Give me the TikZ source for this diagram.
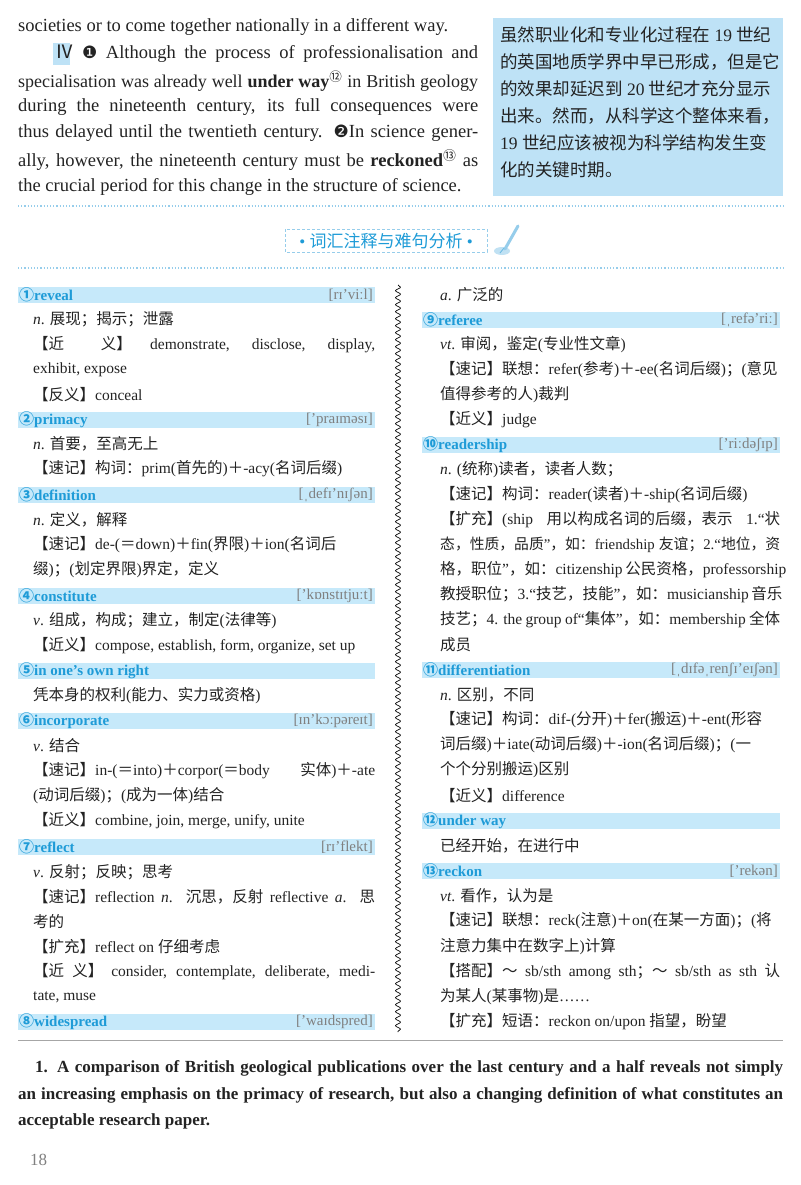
\documentclass[tikz,border=0pt]{standalone}
\usepackage{fontspec}
\setmainfont{Liberation Serif}
\newfontfamily\cjk{Noto Sans CJK SC}
\newfontfamily\dvs{DejaVu Sans}
\usetikzlibrary{decorations.pathmorphing}
\XeTeXinterchartokenstate=1
\newXeTeXintercharclass\cjkcls
\newcount\cc
\def\setcls#1#2{\cc=#1 \loop\XeTeXcharclass\cc=\cjkcls\ifnum\cc<#2 \advance\cc 1 \repeat}
\setcls{"3000}{"303F}\setcls{"4E00}{"9FFF}\setcls{"FF00}{"FFEF}\setcls{"2460}{"24FF}\setcls{"2160}{"217F}
\XeTeXinterchartoks 0 \cjkcls={\begingroup\cjk}
\XeTeXinterchartoks 4095 \cjkcls={\begingroup\cjk}
\XeTeXinterchartoks \cjkcls 0={\endgroup}
\XeTeXinterchartoks \cjkcls 4095={\endgroup}
\definecolor{barc}{RGB}{198,233,250}
\definecolor{boxc}{RGB}{190,226,246}
\definecolor{headc}{RGB}{30,155,215}
\definecolor{txt}{RGB}{35,35,35}
\definecolor{dotc}{RGB}{150,205,235}
\tikzset{ln/.style={anchor=west,inner sep=0,text=txt,font=\fontsize{15.5}{17}\selectfont},
 top/.style={ln,font=\fontsize{18.5}{20}\selectfont},
 hd/.style={anchor=west,inner sep=0,text=headc,font=\fontsize{15}{16}\selectfont\bfseries},
 ph/.style={anchor=east,inner sep=0,text=gray,font=\fontsize{15}{16}\selectfont}}
\newcommand\Ln[3]{\node[ln] at (#1,#2) {#3};}
\newcommand\Jn[4]{\node[ln] at (#1,#2) {\hbox to #3pt{#4}};}
\newcommand\Bar[5]{\fill[barc] (#1,#3-8) rectangle (#2,#3+8);
 \node[hd] at (#1+1,#3) {#4}; \node[ph] at (#2-2,#3) {#5};}
\begin{document}
\begin{tikzpicture}[x=1pt,y=-1pt]
\useasboundingbox[fill=white] (0,0) rectangle (800,1185);
% top paragraph
\node[top] at (18,27) {societies or to come together nationally in a different way.};
\fill[boxc] (53,43) rectangle (70,65);
\node[top] at (55,54) {\hbox to 423pt{Ⅳ\ {\dvs\fontsize{17}{18}\selectfont ❶} Although the process of professionalisation and}};
\node[top,font=\fontsize{18}{20}\selectfont] at (18,81) {\hbox to 460pt{specialisation was already well \textbf{under way}\textsuperscript{⑫} in British geology}};
\node[top] at (18,107) {\hbox to 460pt{during the nineteenth century, its full consequences were}};
\node[top] at (18,133) {\hbox to 460pt{thus delayed until the twentieth century. {\dvs\fontsize{17}{18}\selectfont ❷}In science gener-}};
\node[top] at (18,160) {\hbox to 460pt{ally, however, the nineteenth century must be \textbf{reckoned}\textsuperscript{⑬} as}};
\node[top] at (18,187) {the crucial period for this change in the structure of science.};
\fill[boxc] (493,18) rectangle (783,196);
\foreach \t [count=\i] in {虽然职业化和专业化过程在 19 世纪,的英国地质学界中早已形成，但是它,的效果却延迟到 20 世纪才充分显示,出来。然而，从科学这个整体来看，,19 世纪应该被视为科学结构发生变,化的关键时期。}
 \node[ln,font=\fontsize{17.5}{20}\selectfont] at (500,8+27*\i) {\t};
\draw[dotc,dotted,line width=1.2pt] (18,206) -- (783,206);
\draw[dotc,dotted,line width=1.2pt] (18,268) -- (783,268);
\draw[dotc,densely dashed] (285,229) rectangle (487,252);
\node[text=headc,font=\fontsize{17}{18}\selectfont,inner sep=0] (hd) at (386,241) {• 词汇注释与难句分析 •};
\draw[dotc,line width=3pt,line cap=round] (505,249) -- (518,226);
\draw[headc,line width=0.8pt] (500,253) -- (504,248);
\fill[dotc,opacity=0.6] (502,251) ellipse (8 and 4);
% separator
\draw[decorate,decoration={snake,segment length=7,amplitude=2.5},line width=0.7pt] (398,285) -- (398,1032);
% left column
\Bar{18}{375}{295}{①reveal}{[rɪ'viːl]}
\Ln{33}{319}{\textit{n}. 展现；揭示；泄露}
\Jn{33}{345}{342}{【近 \ 义】 demonstrate, disclose, display,}
\Ln{33}{370}{exhibit, expose}
\Ln{33}{395}{【反义】conceal}
\Bar{18}{375}{420}{②primacy}{['praɪməsɪ]}
\Ln{33}{444}{\textit{n}. 首要，至高无上}
\Ln{33}{469}{【速记】构词：prim(首先的)＋-acy(名词后缀)}
\Bar{18}{375}{495}{③definition}{[ˌdefɪ'nɪʃən]}
\Ln{33}{520}{\textit{n}. 定义，解释}
\Jn{33}{545}{342}{【速记】de-(＝down)＋fin(界限)＋ion(名词后}
\Ln{33}{570}{缀)；(划定界限)界定，定义}
\Bar{18}{375}{596}{④constitute}{['kɒnstɪtjuːt]}
\Ln{33}{621}{\textit{v}. 组成，构成；建立，制定(法律等)}
\Ln{33}{646}{【近义】compose, establish, form, organize, set up}
\Bar{18}{375}{671}{⑤in one's own right}{}
\Ln{33}{696}{凭本身的权利(能力、实力或资格)}
\Bar{18}{375}{721}{⑥incorporate}{[ɪn'kɔːpəreɪt]}
\Ln{33}{746}{\textit{v}. 结合}
\Jn{33}{771}{342}{【速记】in-(＝into)＋corpor(＝body 实体)＋-ate}
\Ln{33}{796}{(动词后缀)；(成为一体)结合}
\Ln{33}{821}{【近义】combine, join, merge, unify, unite}
\Bar{18}{375}{847}{⑦reflect}{[rɪ'flekt]}
\Ln{33}{872}{\textit{v}. 反射；反映；思考}
\Jn{33}{897}{342}{【速记】reflection \textit{n}. 沉思，反射 reflective \textit{a}. 思}
\Ln{33}{922}{考的}
\Ln{33}{947}{【扩充】reflect on 仔细考虑}
\Jn{33}{972}{342}{【近 义】 consider, contemplate, deliberate, medi-}
\Ln{33}{997}{tate, muse}
\Bar{18}{375}{1022}{⑧widespread}{['waɪdspred]}
% right column
\Ln{440}{295}{\textit{a}. 广泛的}
\Bar{422}{780}{320}{⑨referee}{[ˌrefə'riː]}
\Ln{440}{345}{\textit{vt}. 审阅，鉴定(专业性文章)}
\Jn{440}{370}{340}{【速记】联想：refer(参考)＋-ee(名词后缀)；(意见}
\Ln{440}{395}{值得参考的人)裁判}
\Ln{440}{420}{【近义】judge}
\Bar{422}{780}{445}{⑩readership}{['riːdəʃɪp]}
\Ln{440}{470}{\textit{n}. (统称)读者，读者人数；}
\Ln{440}{495}{【速记】构词：reader(读者)＋-ship(名词后缀)}
\Jn{440}{520}{340}{【扩充】(ship 用以构成名词的后缀，表示 1.“状}
\node[ln,font=\fontsize{14.8}{17}\selectfont] at (440,545) {\hbox to 340pt{态，性质，品质”，如：friendship 友谊；2.“地位，资}};
\Jn{440}{570}{340}{格，职位”，如：citizenship 公民资格，professorship}
\Jn{440}{595}{340}{教授职位；3.“技艺，技能”，如：musicianship 音乐}
\Jn{440}{620}{340}{技艺；4. the group of“集体”，如：membership 全体}
\Ln{440}{645}{成员}
\Bar{422}{780}{670}{⑪differentiation}{[ˌdɪfəˌrenʃɪ'eɪʃən]}
\Ln{440}{695}{\textit{n}. 区别，不同}
\Jn{440}{720}{340}{【速记】构词：dif-(分开)＋fer(搬运)＋-ent(形容}
\Jn{440}{745}{340}{词后缀)＋iate(动词后缀)＋-ion(名词后缀)；(一}
\Ln{440}{770}{个个分别搬运)区别}
\Ln{440}{796}{【近义】difference}
\Bar{422}{780}{821}{⑫under way}{}
\Ln{440}{846}{已经开始，在进行中}
\Bar{422}{780}{871}{⑬reckon}{['rekən]}
\Ln{440}{896}{\textit{vt}. 看作，认为是}
\Jn{440}{921}{340}{【速记】联想：reck(注意)＋on(在某一方面)；(将}
\Ln{440}{947}{注意力集中在数字上)计算}
\Jn{440}{972}{340}{【搭配】～ sb/sth among sth；～ sb/sth as sth 认}
\Ln{440}{997}{为某人(某事物)是……}
\Ln{440}{1022}{【扩充】短语：reckon on/upon 指望，盼望}
% bottom
\draw[gray!70,line width=0.8pt] (18,1040) -- (783,1040);
\node[ln,font=\fontsize{17}{18}\selectfont\bfseries] at (35,1068) {\hbox to 748pt{1. A comparison of British geological publications over the last century and a half reveals not simply}};
\node[ln,font=\fontsize{17}{18}\selectfont\bfseries] at (18,1095) {\hbox to 765pt{an increasing emphasis on the primacy of research, but also a changing definition of what constitutes an}};
\node[ln,font=\fontsize{17}{18}\selectfont\bfseries] at (18,1121) {acceptable research paper.};
\node[ln,font=\fontsize{17}{19}\selectfont,text=gray] at (30,1160) {18};
\end{tikzpicture}
\end{document}
